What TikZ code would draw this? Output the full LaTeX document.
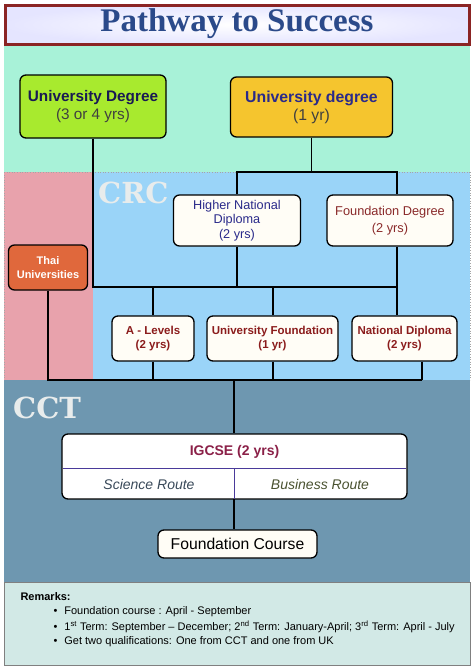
\documentclass[tikz,border=0pt]{standalone}
\usepackage{fontspec}
\setmainfont{Liberation Sans}
\newfontfamily\titlefont{Liberation Serif}
\newfontfamily\tagfont{DejaVu Serif}
\usetikzlibrary{positioning}
\definecolor{mint}{HTML}{A8F2D8}
\definecolor{pinkbg}{HTML}{E8A2AC}
\definecolor{bluebg}{HTML}{9AD4F8}
\definecolor{cctbg}{HTML}{6E97B0}
\definecolor{rembg}{HTML}{D2E9E6}
\definecolor{greenbox}{HTML}{A8EA2E}
\definecolor{yellowbox}{HTML}{F5C52E}
\definecolor{orangebox}{HTML}{E0683C}
\definecolor{cream}{HTML}{FFFDF6}
\definecolor{navytxt}{HTML}{2A2A8A}
\definecolor{redtxt}{HTML}{8A2A2A}
\definecolor{darkred}{HTML}{8B1C1C}
\definecolor{titleblue}{HTML}{2B4A8A}
\definecolor{titleborder}{HTML}{8B2424}
\definecolor{igcsetxt}{HTML}{8B2048}
\definecolor{scitxt}{HTML}{3A4A5A}
\definecolor{bustxt}{HTML}{4A5230}
\definecolor{divider}{HTML}{4A3A9A}
\definecolor{labelgray}{HTML}{E8ECEC}
\tikzset{
  conn/.style={draw=black, line width=1.4pt},
  boxbase/.style={draw=black, line width=1.3pt, rounded corners=6pt, align=center, inner sep=0pt},
  whitebox/.style={boxbase, fill=cream},
  bigtag/.style={font=\tagfont\bfseries\fontsize{29}{29}\selectfont, text=labelgray, anchor=west, inner sep=0pt},
}
\begin{document}
\begin{tikzpicture}[x=1pt,y=-1pt]
\useasboundingbox (0,0) rectangle (474,670);
\fill[white] (0,0) rectangle (474,670);
% regions
\fill[mint] (4,45) rectangle (470,172);
\fill[pinkbg] (4,172) rectangle (93,380);
\fill[bluebg] (93,172) rectangle (470,380);
\fill[cctbg] (4,380) rectangle (470,582);
\fill[rembg] (4,582) rectangle (470,665);
\draw[gray, line width=0.6pt] (4,582) rectangle (470,665);
\draw[gray!70, dotted, line width=0.6pt] (4,172) -- (470,172);
\draw[gray!70, dotted, line width=0.6pt] (4,172) -- (4,380);
\draw[gray!70, dotted, line width=0.6pt] (470,172) -- (470,380);
% title
\shade[inner color=white, outer color=blue!10] (5,5) rectangle (469,44);
\draw[titleborder, line width=3pt] (5,5) rectangle (469,44);
\node[font=\titlefont\bfseries\fontsize{33}{33}\selectfont, text=titleblue] (title) at (237,24) {Pathway to Success};
% region tags
\node[bigtag] (crc) at (98,193) {CRC};
\node[bigtag] (cct) at (13,407.5) {CCT};
% top boxes
\node[boxbase, fill=greenbox, minimum width=146pt, minimum height=63pt, font=\fontsize{15.3}{18}\selectfont, text=navytxt!60!black] (ud1) at (93,106.5) {\textbf{University Degree}\\{\color{black!75}(3 or 4 yrs)}};
\node[boxbase, fill=yellowbox, minimum width=162pt, minimum height=60pt, font=\fontsize{15.8}{18}\selectfont, text=navytxt] (ud2) at (311.5,107) {\textbf{University degree}\\{\color{black!75}(1 yr)}};
% CRC middle boxes
\node[whitebox, minimum width=127pt, minimum height=51pt, font=\fontsize{12.7}{14.5}\selectfont, text=navytxt] (hnd) at (237,220.5) {Higher National\\Diploma\\(2 yrs)};
\node[whitebox, minimum width=126pt, minimum height=51pt, font=\fontsize{12.8}{17}\selectfont, text=redtxt] (fd) at (390,220.5) {Foundation Degree\\(2 yrs)};
\node[boxbase, fill=orangebox, minimum width=79pt, minimum height=45pt, font=\bfseries\fontsize{11}{14}\selectfont, text=white] (thai) at (48,267.5) {Thai\\Universities};
% CRC lower boxes
\node[whitebox, minimum width=82pt, minimum height=45pt, font=\bfseries\fontsize{11.5}{14}\selectfont, text=darkred] (alev) at (153,338.5) {A - Levels\\(2 yrs)};
\node[whitebox, minimum width=131pt, minimum height=45pt, font=\bfseries\fontsize{11.5}{14}\selectfont, text=darkred] (uf) at (272.5,338.5) {University Foundation\\(1 yr)};
\node[whitebox, minimum width=105pt, minimum height=45pt, font=\bfseries\fontsize{11.5}{14}\selectfont, text=darkred] (nd) at (404.5,338.5) {National Diploma\\(2 yrs)};
% IGCSE
\node[whitebox, fill=white, minimum width=345pt, minimum height=65pt] (igcse) at (234.5,466.5) {};
\coordinate (igL) at (63,468);
\coordinate (igR) at (406,468);
\coordinate (igM) at (234,468);
\coordinate (igB) at (234,499);
\draw[divider, line width=1pt] (igL) -- (igR);
\draw[divider, line width=1pt] (igM) -- (igB);
\node[font=\bfseries\fontsize{14}{16}\selectfont, text=igcsetxt] (igt) at (234.5,452) {IGCSE (2 yrs)};
\node[font=\itshape\fontsize{14}{16}\selectfont, text=scitxt] (sci) at (149,484) {Science Route};
\node[font=\itshape\fontsize{14}{16}\selectfont, text=bustxt] (bus) at (320,484) {Business Route};
\node[whitebox, minimum width=159pt, minimum height=28pt, font=\fontsize{15.7}{18}\selectfont] (fc) at (237.5,544) {Foundation Course};
% connectors
\coordinate (j1) at (93,287);
\coordinate (ud2j) at (311.5,172);
\coordinate (hndtop) at (237,172);
\coordinate (fdtop) at (397,172);
\coordinate (hndj) at (237,287);
\coordinate (fdj) at (397,287);
\coordinate (alj) at (153,287);
\coordinate (ufj) at (273,287);
\coordinate (b1) at (48,380);
\coordinate (b2) at (153,380);
\coordinate (b3) at (273,380);
\coordinate (b4) at (422,380);
\coordinate (bm) at (234,380);
\draw[conn] (ud1.south) -- (j1) -- (fdj);
\draw[conn] (ud2.south) -- (ud2j);
\draw[conn] (hnd.north) -- (hndtop) -- (fdtop) -- (fd.north -| fdtop);
\draw[conn] (hnd.south) -- (hndj);
\draw[conn] (fd.south -| fdj) -- (fdj) -- (nd.north -| fdj);
\draw[conn] (alj) -- (alev.north);
\draw[conn] (ufj) -- (uf.north -| ufj);
\draw[conn] (thai.south) -- (b1) -- (b4);
\draw[conn] (alev.south) -- (b2);
\draw[conn] (uf.south -| b3) -- (b3);
\draw[conn] (nd.south -| b4) -- (b4);
\draw[conn] (bm) -- (igcse.north -| bm);
\draw[conn] (igB) -- (fc.north -| igB);
% remarks
\node[anchor=west, font=\bfseries\fontsize{11}{13}\selectfont] (rem) at (17,597) {Remarks:};
\node[anchor=west, font=\fontsize{11}{13}\selectfont, align=left] (r1) at (50,612) {•\hspace{7pt}Foundation course : April - September};
\node[anchor=west, font=\fontsize{11}{13}\selectfont, align=left] (r2) at (50,627) {•\hspace{7pt}1\textsuperscript{st} Term: September – December; 2\textsuperscript{nd} Term: January-April; 3\textsuperscript{rd} Term: April - July};
\node[anchor=west, font=\fontsize{11}{13}\selectfont, align=left] (r3) at (50,642) {•\hspace{7pt}Get two qualifications: One from CCT and one from UK};
\end{tikzpicture}
\end{document}
